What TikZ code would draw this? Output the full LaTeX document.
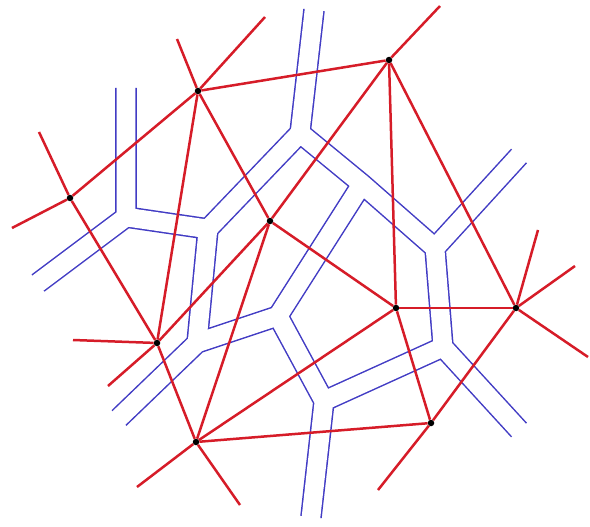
\documentclass[tikz,border=0pt]{standalone}
\usepackage{xcolor}
\usepackage{tikz}
\definecolor{dred}{RGB}{214,28,40}
\definecolor{vblue}{RGB}{66,60,196}
\tikzset{
  site/.style={circle, fill=black, inner sep=0pt, minimum size=6.5pt},
  dedge/.style={draw=dred, line width=2.5pt},
  vouter/.style={draw=vblue, line width=21.6pt, line join=miter},
  vinner/.style={draw=white, line width=18.6pt, line join=miter, line cap=round}
}

\begin{document}
\begin{tikzpicture}[x=1pt, y=-1pt]
\useasboundingbox (0,0) rectangle (590,527);
% voronoi vertices and open ends
\coordinate (v1) at (126,217);
\coordinate (v2) at (208,229);
\coordinate (v3) at (197,343);
\coordinate (v4) at (278,316);
\coordinate (v5) at (300,133);
\coordinate (v6) at (362,184);
\coordinate (v7) at (435,248);
\coordinate (v8) at (443,347);
\coordinate (v9) at (324,401);
\coordinate (f1) at (126,88);
\coordinate (f2) at (38,283);
\coordinate (f3) at (119,418);
\coordinate (f4) at (314,10);
\coordinate (f5) at (519,156);
\coordinate (f6) at (519,430);
\coordinate (f7) at (311,517);

% blue band first, then the white core over it
\foreach \s in {vouter, vinner}
  \draw[\s] (f2) -- (v1) -- (v2)
    (f1) -- (v1)
    (f4) -- (v5) -- (v2) -- (v3)
    (f3) -- (v3) -- (v4) -- (v6)
    (v5) -- (v6) -- (v7) -- (v8) -- (f6)
    (v7) -- (f5)
    (v4) -- (v9) -- (f7)
    (v8) -- (v9);

% sites
\node[site] (p1) at (70,198) {};
\node[site] (p2) at (198,91) {};
\node[site] (p3) at (389,60) {};
\node[site] (p4) at (270,221) {};
\node[site] (p5) at (157,343) {};
\node[site] (p6) at (196,442) {};
\node[site] (p7) at (396,308) {};
\node[site] (p8) at (516,308) {};
\node[site] (p9) at (431,423) {};

% outer rays
\coordinate (p1a) at (12,228);
\coordinate (p1b) at (39,132);
\coordinate (p2a) at (177,39);
\coordinate (p2b) at (265,17);
\coordinate (p3a) at (440,6);
\coordinate (p5a) at (73,340);
\coordinate (p5b) at (108,386);
\coordinate (p6a) at (137,487);
\coordinate (p6b) at (240,505);
\coordinate (p8a) at (538,230);
\coordinate (p8b) at (575,266);
\coordinate (p8c) at (588,357);
\coordinate (p9a) at (378,490);

\foreach \u/\w in {p1/p2, p1/p5, p2/p3, p2/p4, p2/p5, p3/p4, p3/p7, p3/p8,
  p4/p5, p4/p6, p4/p7, p5/p6, p6/p7, p6/p9, p7/p8, p7/p9, p8/p9,
  p1/p1a, p1/p1b, p2/p2a, p2/p2b, p3/p3a, p5/p5a, p5/p5b,
  p6/p6a, p6/p6b, p8/p8a, p8/p8b, p8/p8c, p9/p9a}
  \draw[dedge] (\u) -- (\w);
\end{tikzpicture}
\end{document}
